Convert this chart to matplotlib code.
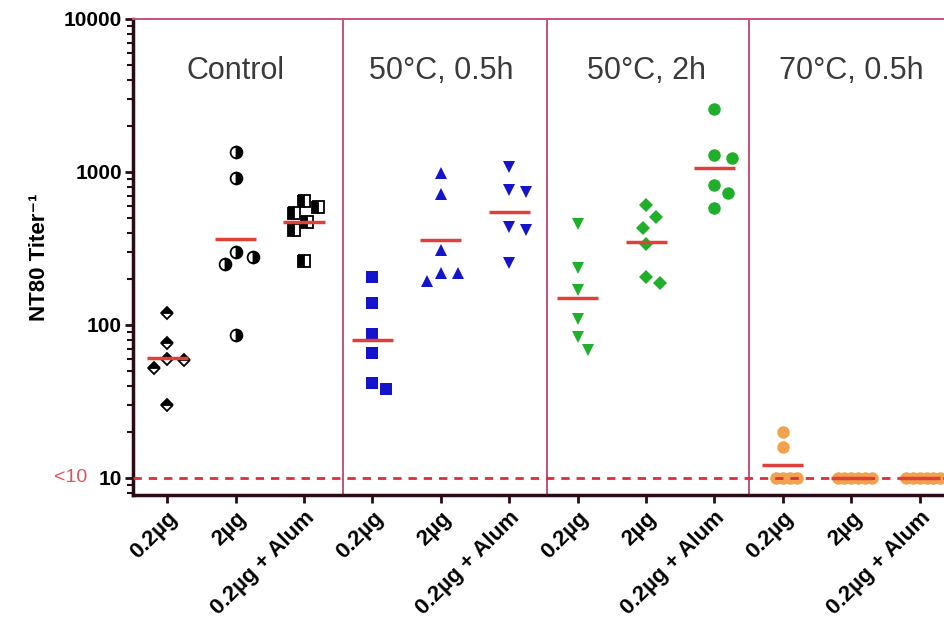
import numpy as np
import matplotlib
matplotlib.use("Agg")
import matplotlib.pyplot as plt
from matplotlib.ticker import LogLocator, NullFormatter, FixedLocator

plt.rcParams['font.family'] = ['Liberation Sans', 'DejaVu Sans']

# data: NT80 titers, 6 animals per group
groups = ["Control", "50°C, 0.5h", "50°C, 2h", "70°C, 0.5h"]
doses = ["0.2µg", "2µg", "0.2µg + Alum"]

ctrl_02 = [119, 76, 60, 59, 52, 30]
ctrl_2 = [1360, 920, 300, 280, 250, 86]
ctrl_alum = [650, 590, 540, 470, 420, 260]
h50s_02 = [207, 140, 87, 66, 42, 38]
h50s_2 = [990, 720, 310, 220, 220, 195]
h50s_alum = [1070, 760, 740, 435, 420, 255]
h50l_02 = [460, 235, 170, 110, 84, 69]
h50l_2 = [610, 505, 430, 340, 207, 187]
h50l_alum = [2570, 1290, 1230, 820, 730, 580]
h70_02 = [20, 16, 10, 10, 10, 10]
h70_2 = [10, 10, 10, 10, 10, 10]
h70_alum = [10, 10, 10, 10, 10, 10]
detect_limit = 10

series = [ctrl_02, ctrl_2, ctrl_alum,
          h50s_02, h50s_2, h50s_alum,
          h50l_02, h50l_2, h50l_alum,
          h70_02, h70_2, h70_alum]

BLK, BLUE, GREEN, ORANGE = 'black', '#1414CC', '#1FAF2A', '#F2A24E'
styles = [
    dict(marker='D', ms=6.5, color=BLK, fillstyle='top', markerfacecoloralt='white', mew=1.3),
    dict(marker='o', ms=8.5, color=BLK, fillstyle='right', markerfacecoloralt='white', mew=1.3),
    dict(marker='s', ms=8, color=BLK, fillstyle='left', markerfacecoloralt='white', mew=1.3),
    dict(marker='s', ms=8.5, color=BLUE, mew=0),
    dict(marker='^', ms=9, color=BLUE, mew=0),
    dict(marker='v', ms=9, color=BLUE, mew=0),
    dict(marker='v', ms=9, color=GREEN, mew=0),
    dict(marker='D', ms=7, color=GREEN, mew=0),
    dict(marker='o', ms=9, color=GREEN, mew=0),
    dict(marker='o', ms=9, color=ORANGE, mew=0),
    dict(marker='o', ms=9, color=ORANGE, mew=0),
    dict(marker='o', ms=9, color=ORANGE, mew=0),
]

FRAME = '#C8507A'
AXC = '#2a0a14'
MEANC = '#E0403A'


def swarm(vals, center, px_x=68.4, px_dec=153.0, r=13.0, step=0.05):
    """simple beeswarm offsets so points do not sit on top of each other"""
    vals = np.asarray(vals, dtype=float)
    xs = np.empty(len(vals))
    placed = []
    cands = [0]
    for k in range(1, 14):
        cands += [k, -k]
    for i in np.argsort(-vals):
        ly = np.log10(vals[i])
        best = cands[-1]
        for k in cands:
            dx = k * step
            if all(np.hypot((dx - px) * px_x, (ly - py) * px_dec) >= r
                   for px, py in placed):
                best = k
                break
        dx = best * step
        placed.append((dx, ly))
        xs[i] = center + dx
    return xs


fig = plt.figure(figsize=(9.45, 6.19), dpi=100)
ax = fig.add_axes([133 / 945, 1 - 495 / 619, 812 / 945, (495 - 19) / 619])

for k, (vals, st) in enumerate(zip(series, styles)):
    xs = swarm(vals, k, r=6.5 if max(vals) <= 20 else 15)
    ax.plot(xs, vals, ls='none', zorder=3, **st)
    gm = 10 ** np.mean(np.log10(vals))
    ax.plot([k - 0.3, k + 0.3], [gm, gm], color=MEANC, lw=2.5, zorder=5,
            solid_capstyle='butt')

ax.axhline(detect_limit, color='#D6303E', lw=2, ls=(0, (3, 2.5)), zorder=4)

ax.set_yscale('log')
ax.set_ylim(7.74, 10000)
ax.set_xlim(-0.5, 11.37)

# panel frames
for xv in [2.57, 5.55, 8.5]:
    ax.axvline(xv, color=FRAME, lw=1.4, zorder=2)
for s in ['top', 'right']:
    ax.spines[s].set_color(FRAME)
    ax.spines[s].set_linewidth(1.4)
for s in ['left', 'bottom']:
    ax.spines[s].set_color(AXC)
    ax.spines[s].set_linewidth(2.5)

for g, name in enumerate(groups):
    ax.text(3 * g + 1, 4600, name, ha='center', va='center',
            fontsize=22, color='#3a3a3a')

ax.yaxis.set_major_locator(FixedLocator([10, 100, 1000, 10000]))
ax.yaxis.set_minor_locator(LogLocator(base=10, subs=np.arange(2, 10)))
ax.yaxis.set_minor_formatter(NullFormatter())
ax.set_yticklabels(['10', '100', '1000', '10000'], fontsize=15,
                   fontweight='bold')
ax.tick_params(axis='y', which='major', length=6, width=2, color=AXC, pad=2)
ax.tick_params(axis='y', which='minor', length=4, width=1.5, color=AXC)

ax.set_xticks(range(len(series)))
ax.set_xticklabels(doses * len(groups), rotation=45, ha='right',
                   va='top', rotation_mode='anchor', fontsize=16,
                   fontweight='bold')
ax.tick_params(axis='x', length=6, width=2, color=AXC, pad=3)

ax.set_ylabel('NT80 Titer⁻¹', fontsize=16, fontweight='bold', labelpad=10)

ax.annotate('<10', xy=(0, detect_limit), xycoords=('axes fraction', 'data'),
            xytext=(-33, 0), textcoords='offset points', ha='right',
            va='center', fontsize=14, color='#E0505E')

fig.savefig('out.png', dpi=100)
